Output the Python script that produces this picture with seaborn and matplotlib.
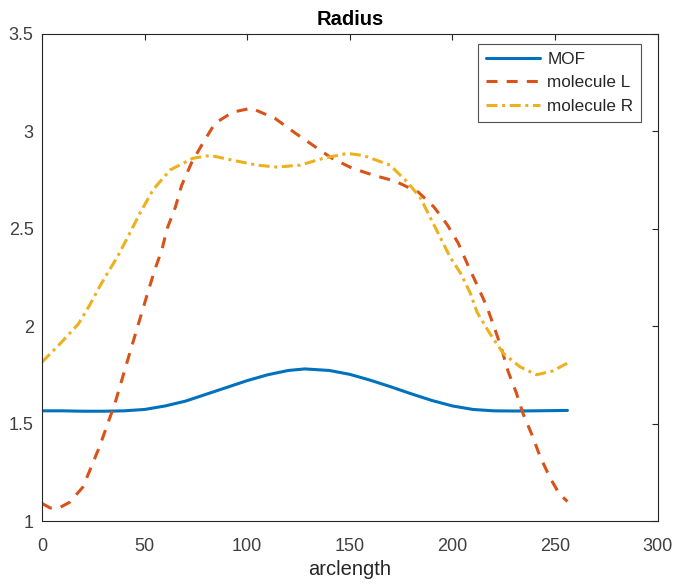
import matplotlib
matplotlib.use("Agg")
import matplotlib.pyplot as plt
import seaborn as sns
import pandas as pd

mof_x = [0, 10, 20, 30, 40, 50, 60, 70, 80, 90, 100, 110, 120, 128, 140, 150, 160, 170, 180, 190, 200, 210, 220, 230, 240, 256]
mof_y = [1.565, 1.565, 1.563, 1.563, 1.565, 1.572, 1.59, 1.615, 1.65, 1.685, 1.72, 1.75, 1.772, 1.78, 1.772, 1.752, 1.722, 1.688, 1.652, 1.618, 1.59, 1.572, 1.565, 1.564, 1.565, 1.567]

molL_x = [0, 4, 8, 13.6, 20, 28, 35.6, 43, 51.8, 55, 58.4, 61, 65, 68, 73, 78.5, 84.3, 93, 102, 113.5, 123.3, 131.6, 141.3, 151, 161, 172, 183.3, 191, 197.4, 202.8, 207.6, 212, 216.7, 220.8, 224, 227, 231, 234.4, 238.8, 242.7, 247.6, 252, 256]
molL_y = [1.09, 1.067, 1.065, 1.097, 1.175, 1.38, 1.605, 1.87, 2.18, 2.29, 2.39, 2.5, 2.61, 2.72, 2.84, 2.94, 3.04, 3.097, 3.117, 3.065, 2.99, 2.93, 2.86, 2.81, 2.775, 2.743, 2.687, 2.61, 2.52, 2.425, 2.31, 2.21, 2.1, 1.98, 1.88, 1.77, 1.66, 1.55, 1.44, 1.33, 1.22, 1.14, 1.1]

molR_x = [0, 8, 17.7, 23.4, 28, 30.7, 36.5, 41, 47.8, 54.2, 62.4, 73.5, 82, 93, 104.8, 114.5, 125.7, 137, 148.6, 156.4, 169.6, 177.8, 184.2, 189, 194, 199, 204, 208.6, 212, 218.3, 224.7, 233, 241, 249, 256]
molR_y = [1.815, 1.9, 2.01, 2.11, 2.2, 2.25, 2.35, 2.44, 2.58, 2.7, 2.8, 2.86, 2.875, 2.85, 2.825, 2.815, 2.825, 2.86, 2.885, 2.875, 2.825, 2.74, 2.66, 2.56, 2.455, 2.35, 2.27, 2.17, 2.07, 1.96, 1.86, 1.79, 1.75, 1.77, 1.81]

series_names = ["MOF", "molecule L", "molecule R"]
colors = ["#0072BD", "#D95319", "#EDB120"]

sns.set_style("white")
plt.rcParams["font.family"] = ["Arial", "Liberation Sans", "DejaVu Sans"]

fig = plt.figure(figsize=(6.76, 5.85), dpi=100)
ax = fig.add_axes([0.0621, 0.1094, 0.9109, 0.8333])

data = [(mof_x, mof_y), (molL_x, molL_y), (molR_x, molR_y)]
styles = ["-", (0, (3.6, 3.0)), (0, (3.6, 1.5, 1.0, 1.5))]
for (xs, ys), name, c, ls in zip(data, series_names, colors, styles):
    df = pd.DataFrame({"arclength": xs, "r": ys})
    sns.lineplot(data=df, x="arclength", y="r", ax=ax, color=c, lw=2.2,
                 linestyle=ls, label=name)

ax.set_xlim(0, 300)
ax.set_ylim(1, 3.5)
ax.set_xticks([0, 50, 100, 150, 200, 250, 300])
ax.set_yticks([1, 1.5, 2, 2.5, 3, 3.5])
ax.set_yticklabels(["1", "1.5", "2", "2.5", "3", "3.5"])
ax.set_xlabel("arclength", fontsize=14.5, color="#262626", labelpad=4)
ax.set_ylabel("")
ax.set_title("Radius", fontsize=14.5, fontweight="bold", color="#000000", pad=6)
ax.tick_params(direction="in", length=4, width=0.8, top=True, right=True,
               labelsize=13, colors="#262626", labelcolor="#404040", pad=6)
ax.tick_params(axis="x", pad=12)
for s in ax.spines.values():
    s.set_color("#262626")
    s.set_linewidth(0.8)

leg = ax.legend(loc="upper right", bbox_to_anchor=(0.973, 0.978), borderaxespad=0,
                fontsize=12.3, frameon=True, fancybox=False, edgecolor="#262626",
                handlelength=3.2, handletextpad=0.4, borderpad=0.45, labelspacing=0.5)
leg.get_frame().set_linewidth(0.8)

fig.savefig("out.png", dpi=100)
